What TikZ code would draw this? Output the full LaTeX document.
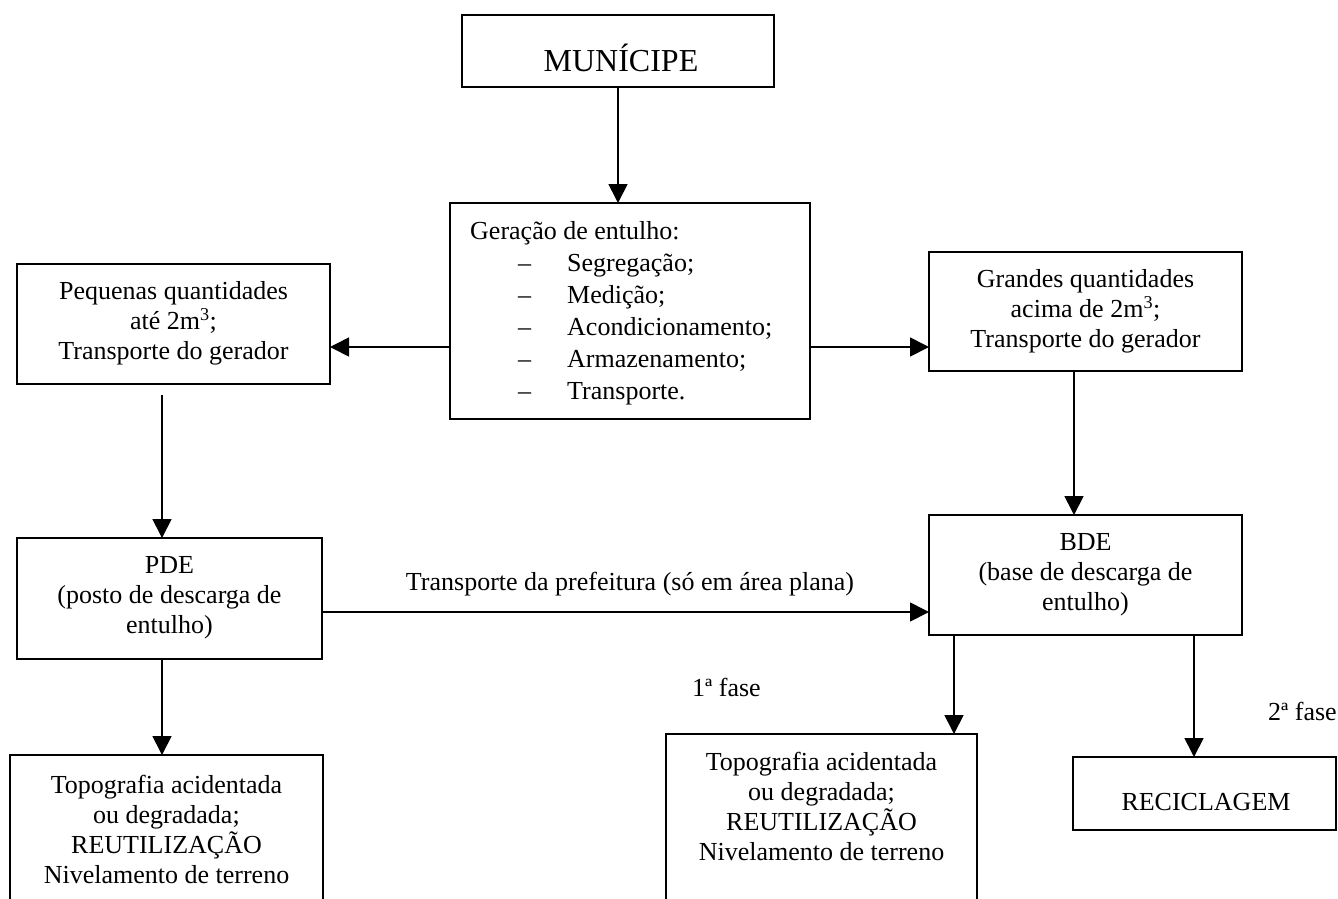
\documentclass[tikz,border=0pt]{standalone}
\usepackage{fontspec}
\setmainfont{Liberation Serif}
\usetikzlibrary{arrows.meta}
\tikzset{
  box/.style={draw, line width=1.7pt, inner sep=0pt, outer sep=0pt, anchor=north west},
  txt/.style={inner sep=0pt, align=center, anchor=north, font=\fontsize{26pt}{30pt}\selectfont},
  lbl/.style={inner sep=0pt, font=\fontsize{26pt}{30pt}\selectfont},
  arr/.style={line width=1.7pt, -{Triangle[length=19pt,width=19pt]}},
}
\begin{document}
\begin{tikzpicture}[x=1pt,y=-1pt]
\useasboundingbox (0,0) rectangle (1338,898);
\clip (0,0) rectangle (1338,898);
% boxes
\node[box, minimum width=312pt, minimum height=72pt] (mun) at (462,15) {};
\node[box, minimum width=360pt, minimum height=216pt] (ger) at (450,203) {};
\node[box, minimum width=313pt, minimum height=120pt] (peq) at (17,264) {};
\node[box, minimum width=313pt, minimum height=119pt] (gra) at (929,252) {};
\node[box, minimum width=305pt, minimum height=121pt] (pde) at (17,538) {};
\node[box, minimum width=313pt, minimum height=120pt] (bde) at (929,515) {};
\node[box, minimum width=313pt, minimum height=200pt] (bl) at (10,755) {};
\node[box, minimum width=311pt, minimum height=200pt] (mid) at (666,734) {};
\node[box, minimum width=263pt, minimum height=73pt] (rec) at (1073,757) {};
% texts
\node[inner sep=0pt, anchor=base, font=\fontsize{32pt}{36pt}\selectfont] (munt) at (621,71) {MUNÍCIPE};
\node[inner sep=0pt, anchor=north west, align=left, font=\fontsize{26pt}{32pt}\selectfont] (gert) at (470,219)
  {\rule{0pt}{20pt}Geração de entulho:\\
   \hspace*{48pt}\makebox[49pt][l]{–}Segregação;\\
   \hspace*{48pt}\makebox[49pt][l]{–}Medição;\\
   \hspace*{48pt}\makebox[49pt][l]{–}Acondicionamento;\\
   \hspace*{48pt}\makebox[49pt][l]{–}Armazenamento;\\
   \hspace*{48pt}\makebox[49pt][l]{–}Transporte.};
\node[txt] (peqt) at (173.5,279) {\rule{0pt}{20pt}Pequenas quantidades\\ até 2m\textsuperscript{3};\\ Transporte do gerador};
\node[txt] (grat) at (1085.5,267) {\rule{0pt}{20pt}Grandes quantidades\\ acima de 2m\textsuperscript{3};\\ Transporte do gerador};
\node[txt] (pdet) at (169.5,553) {\rule{0pt}{20pt}PDE\\ (posto de descarga de\\ entulho)};
\node[txt] (bdet) at (1085.5,530) {\rule{0pt}{20pt}BDE\\ (base de descarga de\\ entulho)};
\node[txt] (blt) at (166.5,773) {\rule{0pt}{20pt}Topografia acidentada\\ ou degradada;\\ REUTILIZAÇÃO\\ Nivelamento de terreno};
\node[txt] (midt) at (821.5,750) {\rule{0pt}{20pt}Topografia acidentada\\ ou degradada;\\ REUTILIZAÇÃO\\ Nivelamento de terreno};
\node[lbl, anchor=base] (rect) at (1206,810) {RECICLAGEM};
\node[lbl, anchor=base] (trans) at (630,590) {Transporte da prefeitura (só em área plana)};
\node[lbl, anchor=base west] (f1) at (692,696) {1ª fase};
\node[lbl, anchor=base west] (f2) at (1268,720) {2ª fase};
% arrows
\draw[arr] (mun.south) -- (ger.north -| mun.south);
\draw[arr] ([yshift=-36pt]ger.west) -- ([yshift=-23pt]peq.east);
\draw[arr] ([yshift=-36pt]ger.east) -- ([yshift=-35.5pt]gra.west);
\draw[arr] ([xshift=-11.5pt,yshift=-11pt]peq.south) -- ([xshift=-7.5pt]pde.north);
\draw[arr] ([xshift=-11.5pt]gra.south) -- ([xshift=-11.5pt]bde.north);
\draw[arr] ([yshift=-13.5pt]pde.east) -- ([yshift=-37pt]bde.west);
\draw[arr] ([xshift=-7.5pt]pde.south) -- ([xshift=-4.5pt]bl.north);
\draw[arr] ([xshift=-131.5pt]bde.south) -- ([xshift=132.5pt]mid.north);
\draw[arr] ([xshift=108.5pt]bde.south) -- ([xshift=-10.5pt]rec.north);
\end{tikzpicture}
\end{document}
